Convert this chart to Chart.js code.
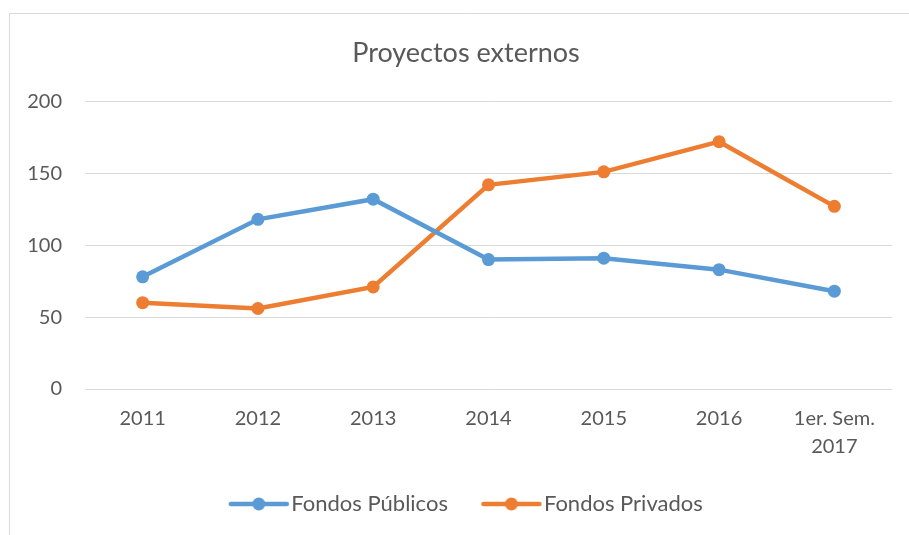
<!DOCTYPE html>
<html>
<head>
<meta charset="utf-8">
<script src="https://cdn.jsdelivr.net/npm/chart.js@4"></script>
<style>
  html, body { margin: 0; padding: 0; background: #fff; overflow: hidden; }
  #wrap { width: 934px; height: 535px; }
</style>
</head>
<body>
<div id="wrap"><canvas id="grafico"></canvas></div>
<script>
const categorias = ['2011', '2012', '2013', '2014', '2015', '2016', ['1er. Sem.', '2017']];
const fondosPublicos = [78, 118, 132, 90, 91, 83, 68];
const fondosPrivados = [60, 56, 71, 142, 151, 172, 127];
const ticksY = [0, 50, 100, 150, 200];

const AZUL = '#5B9BD5';
const NARANJA = '#ED7D31';
const TEXTO = '#595959';
const FUENTE = 'Lato, "Open Sans", sans-serif';

// icono de leyenda: linea con punto, como en Excel
function iconoLeyenda(color) {
  const c = document.createElement('canvas');
  c.width = 70; c.height = 16;
  const ctx = c.getContext('2d');
  ctx.strokeStyle = color;
  ctx.lineWidth = 4.5;
  ctx.lineCap = 'round';
  ctx.beginPath();
  ctx.moveTo(11, 8); ctx.lineTo(67, 8);
  ctx.stroke();
  ctx.fillStyle = color;
  ctx.beginPath();
  ctx.arc(39, 8, 6.5, 0, Math.PI * 2);
  ctx.fill();
  return c;
}
const iconos = [iconoLeyenda(AZUL), iconoLeyenda(NARANJA)];

// marco gris y centrado del titulo/leyenda sobre todo el grafico (como Excel)
const marco = {
  id: 'marco',
  afterLayout(chart) {
    [chart.titleBlock, chart.legend].forEach(b => {
      if (b) { b.left += 15; b.right += 15; }
    });
  },
  beforeDraw(chart) {
    const ctx = chart.ctx;
    ctx.save();
    ctx.strokeStyle = '#d9d9d9';
    ctx.lineWidth = 1;
    ctx.beginPath();
    ctx.moveTo(9.5, 535); ctx.lineTo(9.5, 13.5); ctx.lineTo(934, 13.5);
    ctx.stroke();
    ctx.restore();
  }
};

new Chart(document.getElementById('grafico'), {
  type: 'line',
  data: {
    labels: categorias,
    datasets: [
      {
        label: 'Fondos Públicos',
        data: fondosPublicos,
        borderColor: AZUL,
        backgroundColor: AZUL,
        borderWidth: 4.5,
        pointRadius: 6.5,
        pointHoverRadius: 6.5,
        pointBorderWidth: 0,
        tension: 0,
      },
      {
        label: 'Fondos Privados',
        data: fondosPrivados,
        borderColor: NARANJA,
        backgroundColor: NARANJA,
        borderWidth: 4.5,
        pointRadius: 6.5,
        pointHoverRadius: 6.5,
        pointBorderWidth: 0,
        tension: 0,
      },
    ],
  },
  options: {
    responsive: true,
    maintainAspectRatio: false,
    animation: false,
    layout: { padding: { left: 10, right: 42, top: 0, bottom: 10 } },
    plugins: {
      title: {
        display: true,
        text: 'Proyectos externos',
        color: TEXTO,
        font: { family: FUENTE, size: 27, weight: 'normal', lineHeight: 1.2 },
        padding: { top: 37, bottom: 32 },
      },
      legend: {
        position: 'bottom',
        labels: {
          color: TEXTO,
          font: { family: FUENTE, size: 22 },
          usePointStyle: true,
          pointStyleWidth: 51,
          boxHeight: 16,
          padding: 34,
          generateLabels(chart) {
            const items = Chart.defaults.plugins.legend.labels.generateLabels(chart);
            items.forEach((it, i) => { it.pointStyle = iconos[i]; });
            return items;
          },
        },
      },
      tooltip: { enabled: false },
    },
    scales: {
      x: {
        offset: true,
        grid: { display: false },
        border: { display: false },
        ticks: {
          color: TEXTO,
          font: { family: FUENTE, size: 20, lineHeight: 1.4 },
          padding: 8,
          maxRotation: 0,
        },
        afterFit(scale) { scale.height = 70; },
      },
      y: {
        min: 0,
        max: 200,
        afterBuildTicks(scale) { scale.ticks = ticksY.map(v => ({ value: v })); },
        grid: { color: '#d9d9d9', lineWidth: 1, drawTicks: false },
        border: { display: false },
        ticks: {
          color: TEXTO,
          font: { family: FUENTE, size: 20 },
          padding: 23,
        },
        afterFit(scale) { scale.width = 75; },
      },
    },
  },
  plugins: [marco],
});
</script>
</body>
</html>
